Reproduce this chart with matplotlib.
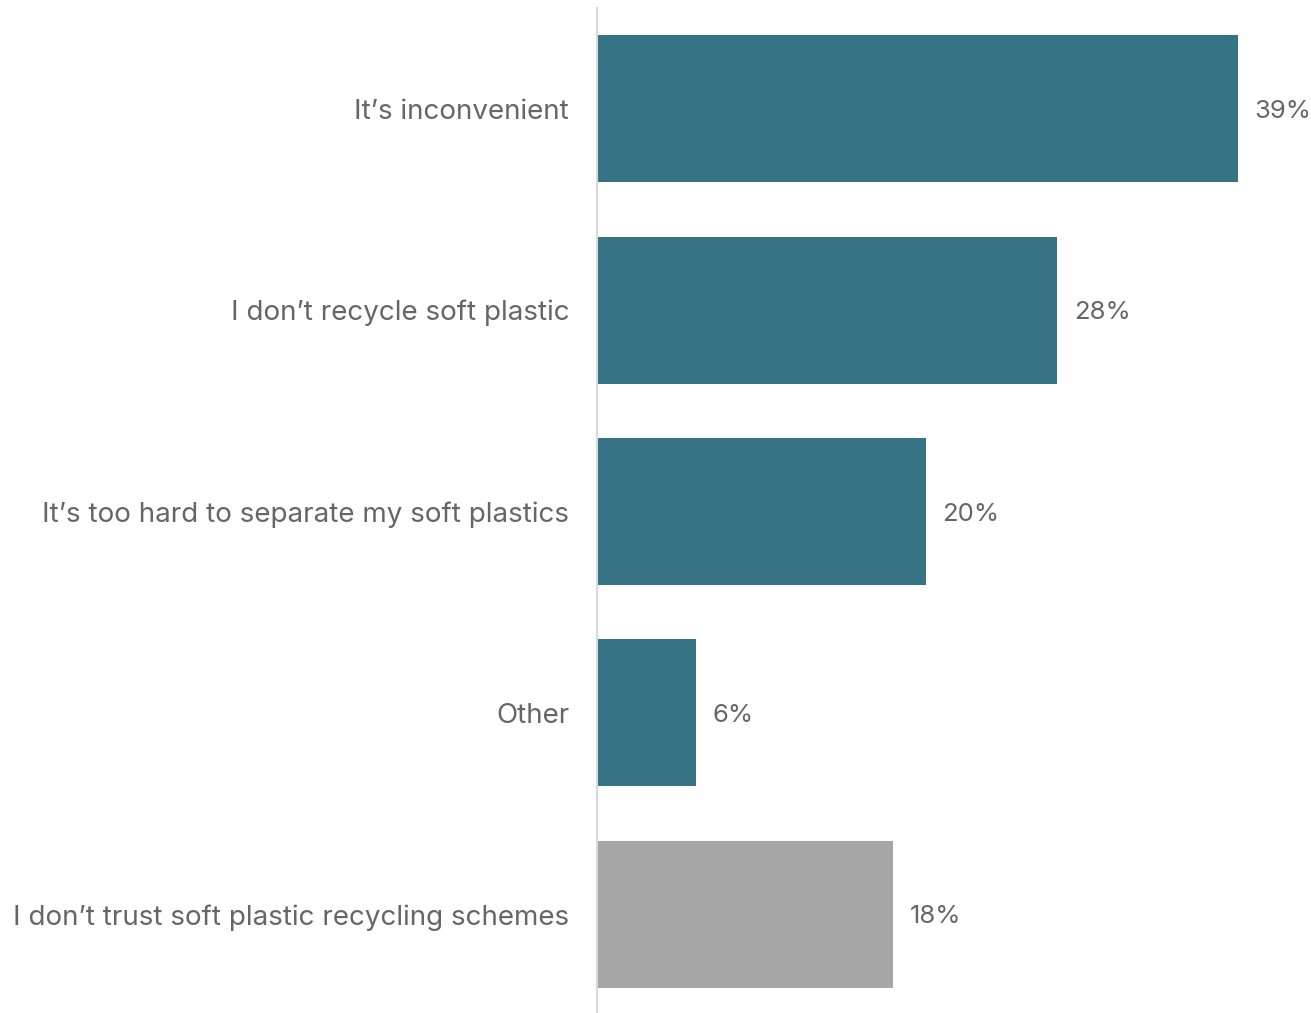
import matplotlib
matplotlib.use("Agg")
import matplotlib.pyplot as plt

categories = ["It\u2019s inconvenient", "I don\u2019t recycle soft plastic",
              "It\u2019s too hard to separate my soft plastics", "Other",
              "I don\u2019t trust soft plastic recycling schemes"]
values = [39, 28, 20, 6, 18]
colors = ["#367485", "#367485", "#367485", "#367485", "#a6a6a6"]

plt.rcParams['font.family'] = ['Inter', 'DejaVu Sans']
fig = plt.figure(figsize=(13.11, 10.13), dpi=100)
ax = fig.add_axes([597/1311, 0, 714/1311, 1005/1013])
y = list(range(len(values)))
ax.barh(y, values, height=0.73, color=colors)
ax.set_xlim(0, 714/16.44)
ax.set_ylim(4.49, -0.5)
for yi, v in zip(y, values):
    ax.text(v + 1.0, yi, f"{v}%", va="center_baseline", ha="left", fontsize=18.5, color="#666666")
ax.set_yticks(y)
ax.set_yticklabels(categories, fontsize=20, color="#666666")
ax.tick_params(axis='y', length=0, pad=20)
ax.set_xticks([])
for s in ["top", "right", "bottom"]:
    ax.spines[s].set_visible(False)
ax.spines["left"].set_color("#d9d9d9")
ax.spines["left"].set_linewidth(1.5)
fig.savefig("out.png", dpi=100)
